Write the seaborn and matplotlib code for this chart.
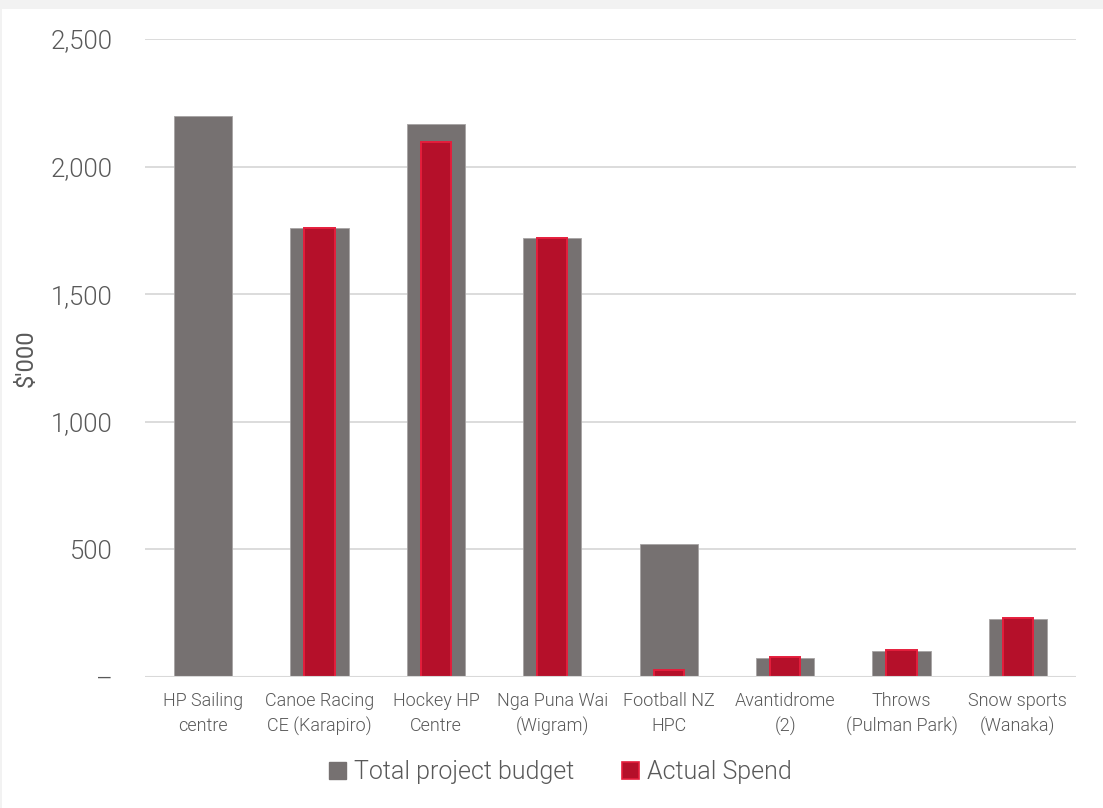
import matplotlib
matplotlib.use("Agg")
import matplotlib.pyplot as plt
import matplotlib.patches as mpatches
import seaborn as sns
import pandas as pd

categories = ["HP Sailing\ncentre", "Canoe Racing\nCE (Karapiro)", "Hockey HP\nCentre",
              "Nga Puna Wai\n(Wigram)", "Football NZ\nHPC", "Avantidrome\n(2)",
              "Throws\n(Pulman Park)", "Snow sports\n(Wanaka)"]
budget = [2200, 1760, 2167, 1720, 521, 74, 102, 227]
actual = [0, 1760, 2096, 1720, 27, 78, 106, 231]
yticks = [0, 500, 1000, 1500, 2000, 2500]
ytick_labels = ["–", "500", "1,000", "1,500", "2,000", "2,500"]

GREY = "#767171"
RED = "#b5102a"
RED_EDGE = "#e51e3c"
TXT = "#595959"
GRID = "#d9d9d9"

sns.set_theme(style="white")
plt.rcParams["font.family"] = ["Roboto", "DejaVu Sans"]
plt.rcParams["font.weight"] = 300

df = pd.DataFrame({"cat": categories, "budget": budget, "actual": actual})

fig = plt.figure(figsize=(11.03, 8.08), dpi=100, facecolor="#f2f2f2")
bg = mpatches.Rectangle((2 / 1103, 0), 1, 1 - 9 / 808,
                        transform=fig.transFigure, facecolor="white",
                        edgecolor="none", zorder=-10)
fig.add_artist(bg)
ax = fig.add_axes([145 / 1103, 1 - 677 / 808, (1076 - 145) / 1103, (677 - 39) / 808])
ax.set_facecolor("white")

sns.barplot(data=df, x="cat", y="budget", color=GREY, width=0.5, ax=ax,
            edgecolor="#a6a3a3", linewidth=0.6, saturation=1, zorder=2)
sns.barplot(data=df, x="cat", y="actual", color=RED, width=0.26, ax=ax,
            edgecolor=RED_EDGE, linewidth=1.4, saturation=1, zorder=3)

ax.set_ylim(0, 2500)
ax.set_xlim(-0.5, 7.5)
ax.set_yticks(yticks)
ax.set_yticklabels(ytick_labels)
ax.yaxis.grid(True, color=GRID, linewidth=1.3)
ax.set_axisbelow(True)
for s in ax.spines.values():
    s.set_visible(False)
ax.axhline(0, color=GRID, linewidth=1.5, zorder=4)
ax.tick_params(axis="y", length=0, pad=23, labelsize=18.5, labelcolor=TXT)
ax.tick_params(axis="x", length=0, pad=11, labelsize=13, labelcolor=TXT)
for lbl in ax.get_xticklabels():
    lbl.set_linespacing(1.45)
ax.set_xlabel("")
ax.set_ylabel("$'000", fontsize=17, color=TXT)
ax.yaxis.set_label_coords(-0.115, 0.5)

handles = [mpatches.Patch(facecolor=GREY, edgecolor=GREY, label="Total project budget"),
           mpatches.Patch(facecolor=RED, edgecolor=RED_EDGE, linewidth=1.2, label="Actual Spend")]
fig.legend(handles=handles, loc="center", bbox_to_anchor=(560 / 1103, 1 - 772 / 808),
           ncol=2, frameon=False, fontsize=18, labelcolor=TXT, handlelength=0.7,
           handleheight=0.7, handletextpad=0.3, columnspacing=1.9)

fig.savefig("out.png", dpi=100, facecolor=fig.get_facecolor())
